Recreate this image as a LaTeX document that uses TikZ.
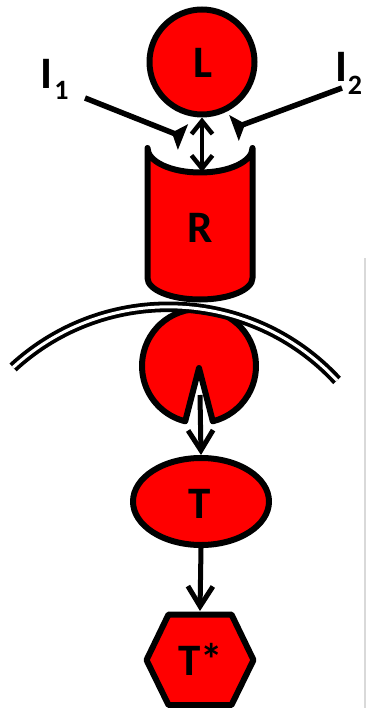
\documentclass[tikz,border=0pt]{standalone}
\usepackage{fontspec}
\setmainfont{Carlito}
\usetikzlibrary{arrows.meta,shapes.geometric}
\begin{document}
\begin{tikzpicture}[x=1pt,y=-1pt,
  shapefill/.style={fill={rgb,255:red,255;green,0;blue,0},draw=black,line width=6pt,line join=round},
  lbl/.style={font=\bfseries\fontsize{45}{45}\selectfont,inner sep=0pt,anchor=base},
  sublbl/.style={font=\bfseries\fontsize{28}{28}\selectfont,inner sep=0pt,anchor=base},
  conn/.style={line width=5pt,-{Straight Barb[length=20pt,width=25pt,line width=5pt]}},
  inhib/.style={line width=5.5pt,-{Triangle[reversed,length=12pt,width=27pt]}}]
\useasboundingbox (0,0) rectangle (368,708);
% screenshot edge
\draw[line width=2pt,black!15] (365,258) -- (365,708);
% L
\node[circle,shapefill,minimum size=105pt,inner sep=0pt] (L) at (202,62) {};
\node[lbl] (Ltxt) at (203,78) {L};
% R cylinder
\path[shapefill] (147.5,148) -- (147.5,278) arc[start angle=180,end angle=0,x radius=52.5,y radius=21.5]
  -- (252.5,148) arc[start angle=0,end angle=180,x radius=52.5,y radius=24.5] -- cycle;
\node[lbl] (R) at (200,243) {R};
\coordinate (Rtop) at (202,172);
% pacman
\path[shapefill] (199,368) -- ([shift={(76:57)}]199,366) arc[start angle=76,end angle=-256,radius=57] -- cycle;
\coordinate (mouth) at (200,395);
% membrane
\draw[line width=3.8pt,double=white,double distance=3pt] ([shift={(-132.6:229.7)}]168.5,536.5) arc[start angle=-132.6,end angle=-42.8,radius=229.7];
% T
\node[ellipse,shapefill,minimum width=136pt,minimum height=87pt,inner sep=0pt] (T) at (201,501.5) {};
\node[lbl] (Ttxt) at (200,518) {T};
% T*
\path[shapefill] (168.5,614.5) -- (231.5,614.5) -- (253.5,660) -- (231.5,705) -- (168.5,705) -- (146.5,660) -- cycle;
\coordinate (Tstop) at (200,611);
\node[lbl] (Tstar) at (201,675) {T*};
% labels I1, I2
\node[lbl] (I1) at (46,89) {I};
\node[sublbl] (I1s) at (61.5,100) {1};
\node[lbl] (I2) at (341.5,82) {I};
\node[sublbl] (I2s) at (355,95) {2};
% connectors
\draw[line width=4.5pt,{Straight Barb[length=13pt,width=21pt,line width=4.5pt]}-{Straight Barb[length=13pt,width=21pt,line width=4.5pt]}] (L.south) -- (Rtop);
\draw[conn] (mouth) -- (T.north);
\draw[conn] (T.south) -- (Tstop);
\coordinate (i1a) at (85,98);
\coordinate (i1b) at (183,137);
\coordinate (i2a) at (342,88);
\coordinate (i2b) at (234,128);
\draw[inhib] (i1a) -- (i1b);
\draw[inhib] (i2a) -- (i2b);
\end{tikzpicture}
\end{document}
